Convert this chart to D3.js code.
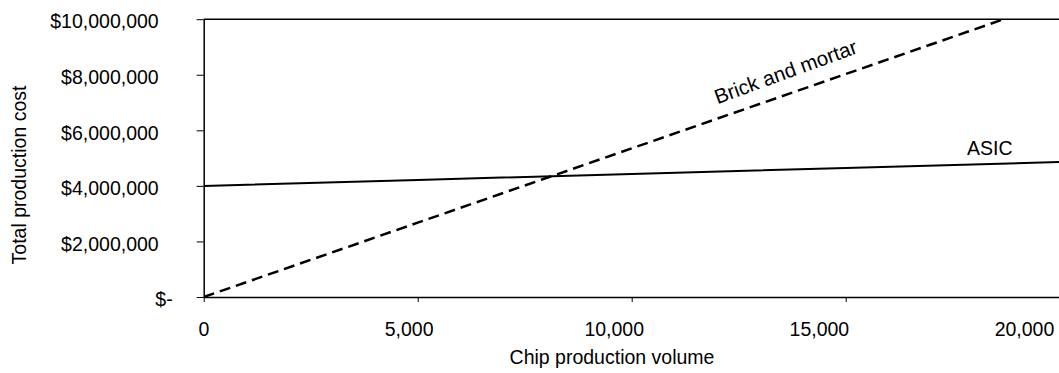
<!DOCTYPE html>
<html>
<head>
<meta charset="utf-8">
<script src="https://cdn.jsdelivr.net/npm/d3@7"></script>
<style>
  html, body { margin: 0; padding: 0; background: #fff; }
  svg { display: block; }
  text { font-family: "Liberation Sans", Arial, sans-serif; fill: #000; }
</style>
</head>
<body>
<div id="chart"></div>
<script>
// Production volumes (chips) at which the cost curves are sampled
const volumes = [0, 5000, 10000, 15000, 20000];
// Total production cost for each approach, in dollars
const brickAndMortar = [0, 2675000, 5350000, 8025000, 10700000];
const asic = [4000000, 4215000, 4430000, 4645000, 4860000];
// Axis ticks
const xTicks = [0, 5000, 10000, 15000, 20000];
const yTicks = [0, 2000000, 4000000, 6000000, 8000000, 10000000];

const W = 1059, H = 373;
const FONT = 19.5;

const svg = d3.select("#chart").append("svg")
  .attr("width", W).attr("height", H);

// Plot area
const plotLeft = 203.7, plotTop = 19.2, plotBottom = 297;
const x = d3.scaleLinear().domain([0, 20000]).range([plotLeft, 1059.7]);
const xLabel = d3.scaleLinear().domain([0, 20000]).range([203.5, 1024]);
const y = d3.scaleLinear().domain([0, 10000000]).range([plotBottom, plotTop]);

svg.append("clipPath").attr("id", "plot-clip")
  .append("rect").attr("x", plotLeft).attr("y", plotTop)
  .attr("width", x(20000) - plotLeft).attr("height", plotBottom - plotTop);

// Top border of the plot area
svg.append("line")
  .attr("x1", plotLeft).attr("x2", W)
  .attr("y1", plotTop).attr("y2", plotTop)
  .attr("stroke", "#000").attr("stroke-width", 1.5);

// Y axis: tick marks and currency labels
const dollars = d3.format(",");
const yAxis = svg.append("g")
  .attr("transform", `translate(${plotLeft},0)`)
  .call(d3.axisLeft(y).tickValues(yTicks).tickSize(7).tickSizeOuter(0)
    .tickFormat(d => d === 0 ? "$-" : "$" + dollars(d)));
yAxis.select(".domain").attr("stroke", "#000").attr("stroke-width", 1.5);
yAxis.selectAll(".tick line").attr("stroke", "#000").attr("stroke-width", 1);
yAxis.selectAll(".tick text")
  .attr("font-size", FONT).attr("font-family", null)
  .attr("x", d => d === 0 ? -31 : -45)
  .attr("dy", "0.45em");

// X axis: tick marks
const xAxis = svg.append("g")
  .attr("transform", `translate(0,${plotBottom})`)
  .call(d3.axisBottom(x).tickValues(xTicks).tickSize(5).tickSizeOuter(0).tickFormat(""));
xAxis.select(".domain").attr("stroke", "#000").attr("stroke-width", 1.5);
xAxis.selectAll(".tick line").attr("stroke", "#000").attr("stroke-width", 1);

// X axis: volume labels
const xAxisLabels = svg.append("g")
  .attr("transform", `translate(0,${plotBottom})`)
  .call(d3.axisBottom(xLabel).tickValues(xTicks).tickSize(0).tickFormat(d3.format(",")));
xAxisLabels.select(".domain").remove();
xAxisLabels.selectAll(".tick text")
  .attr("font-size", FONT).attr("font-family", null)
  .attr("y", 25).attr("dy", "0.71em");

// Axis titles
svg.append("text")
  .attr("x", 612).attr("y", 364)
  .attr("text-anchor", "middle").attr("font-size", FONT)
  .text("Chip production volume");
svg.append("text")
  .attr("transform", "translate(26,175) rotate(-90)")
  .attr("text-anchor", "middle").attr("font-size", FONT)
  .text("Total production cost");

// Cost lines
const plot = svg.append("g").attr("clip-path", "url(#plot-clip)");
const line = d3.line().x(d => x(d[0])).y(d => y(d[1]));

plot.append("path")
  .datum(volumes.map((v, i) => [v, asic[i]]))
  .attr("d", line).attr("fill", "none")
  .attr("stroke", "#000").attr("stroke-width", 2);

plot.append("path")
  .datum(volumes.map((v, i) => [v, brickAndMortar[i]]))
  .attr("d", line).attr("fill", "none")
  .attr("stroke", "#000").attr("stroke-width", 2.5)
  .attr("stroke-dasharray", "11,6");

// Series labels
svg.append("text")
  .attr("transform", `translate(${x(13630) + 1},${y(7290000) - 16}) rotate(-20)`)
  .attr("text-anchor", "middle").attr("font-size", 20.5)
  .text("Brick and mortar");
svg.append("text")
  .attr("x", x(18180) + 8).attr("y", y(4790000) - 9)
  .attr("text-anchor", "middle").attr("font-size", FONT)
  .text("ASIC");
</script>
</body>
</html>
